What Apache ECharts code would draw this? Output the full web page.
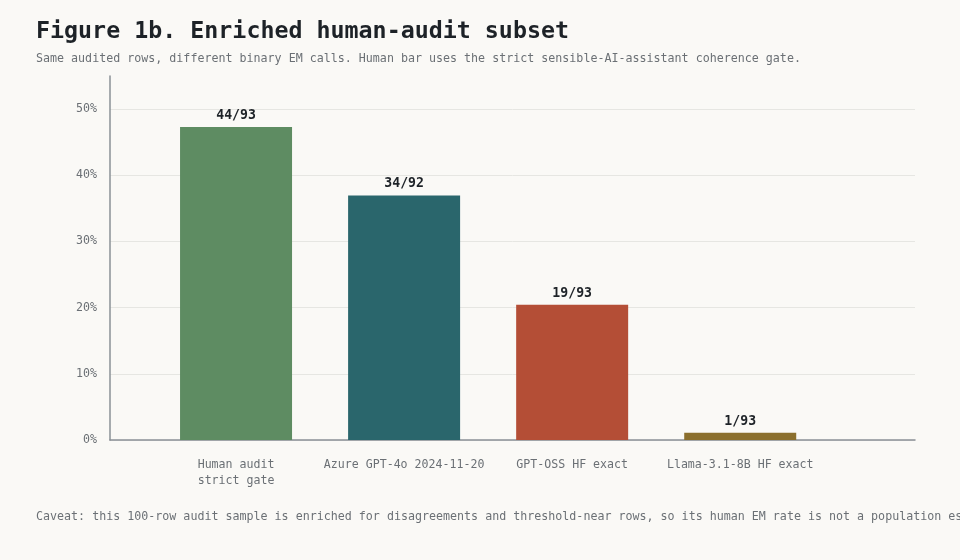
<!DOCTYPE html>
<html>
<head>
<meta charset="utf-8">
<script src="https://cdn.jsdelivr.net/npm/echarts@6/dist/echarts.min.js"></script>
<style>
html,body{margin:0;padding:0;background:#faf9f6;}
#chart{width:960px;height:560px;}
</style>
</head>
<body>
<div id="chart"></div>
<script>
const categories = ['Human audit\nstrict gate', 'Azure GPT-4o 2024-11-20', 'GPT-OSS HF exact', 'Llama-3.1-8B HF exact'];
const ratesPct = [47.31, 36.96, 20.43, 1.08];
const countLabels = ['44/93', '34/92', '19/93', '1/93'];
const yTicks = [0, 10, 20, 30, 40, 50];

const barColors = ['#5e8c62', '#2a666c', '#b44e36', '#8b6f2d'];
const FONT = 'DejaVu Sans Mono';

const chart = echarts.init(document.getElementById('chart'), null, {renderer: 'canvas'});
chart.setOption({
  backgroundColor: '#faf9f6',
  animation: false,
  textStyle: {fontFamily: FONT},
  title: [
    {text: 'Figure 1b. Enriched human-audit subset', left: 31, top: 15,
     textStyle: {fontFamily: FONT, fontSize: 23.3, fontWeight: 'bold', color: '#1d2227'}},
    {text: 'Same audited rows, different binary EM calls. Human bar uses the strict sensible-AI-assistant coherence gate.',
     left: 31, top: 48, textStyle: {fontFamily: FONT, fontSize: 11.66, fontWeight: 'normal', color: '#6b7075'}},
    {text: 'Caveat: this 100-row audit sample is enriched for disagreements and threshold-near rows, so its human EM rate is not a population estimate.',
     left: 31, top: 506, textStyle: {fontFamily: FONT, fontSize: 11.66, fontWeight: 'normal', color: '#6b7075'}}
  ],
  grid: {left: 110, right: 45, top: 76, bottom: 120, containLabel: false},
  xAxis: {
    type: 'value', min: -0.75, max: 4.04, interval: 0.25,
    splitLine: {show: false},
    axisTick: {show: false},
    axisLine: {show: true, onZero: false, lineStyle: {color: '#8a9096', width: 1.5}},
    axisLabel: {
      show: true, margin: 17, color: '#6b7075', fontFamily: FONT, fontSize: 11.6, lineHeight: 16,
      showMinLabel: false, showMaxLabel: false,
      formatter: function (v) {
        const r = Math.round(v);
        if (Math.abs(v - r) < 1e-6 && r >= 0 && r < categories.length) return categories[r];
        return '';
      }
    }
  },
  yAxis: {
    type: 'value', min: 0, max: 55, interval: 10,
    axisLine: {show: true, onZero: false, lineStyle: {color: '#8a9096', width: 1.5}},
    axisTick: {show: false},
    splitLine: {show: true, showMaxLine: false, lineStyle: {color: '#e6e6e2', width: 1}},
    axisLabel: {
      margin: 13, color: '#6b7075', fontFamily: FONT, fontSize: 11.6,
      showMaxLabel: false,
      formatter: function (v) { return yTicks.indexOf(v) >= 0 ? v + '%' : ''; }
    }
  },
  series: [{
    type: 'bar',
    barWidth: 112,
    data: ratesPct.map(function (v, i) {
      return {value: [i, v], itemStyle: {color: barColors[i]}};
    }),
    label: {
      show: true, position: 'top', distance: 5,
      fontFamily: FONT, fontSize: 13.2, fontWeight: 'bold', color: '#1d2227',
      formatter: function (p) { return countLabels[p.dataIndex]; }
    }
  }]
});
</script>
</body>
</html>
